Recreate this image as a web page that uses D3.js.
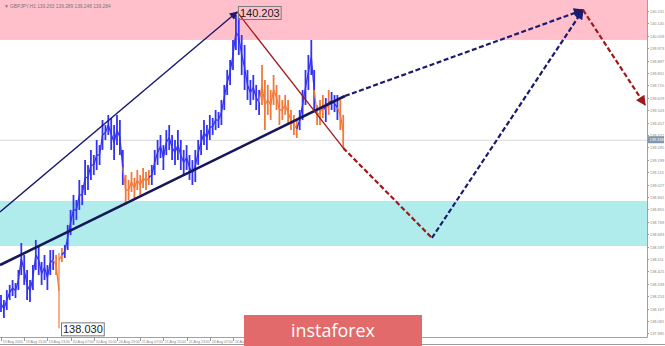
<!DOCTYPE html>
<html><head><meta charset="utf-8">
<script src="https://cdn.jsdelivr.net/npm/d3@7"></script>
<style>html,body{margin:0;padding:0;background:#fff;overflow:hidden}svg{display:block}</style>
</head><body>
<script>
// ---- data ----
const symbolHeader = "\u25BC GBPJPY,H1  139.263 139.289 139.248 139.284";
const barHigh = [138.261,138.227,138.296,138.331,138.365,138.344,138.435,138.622,138.539,138.435,
138.365,138.469,138.643,138.608,138.490,138.539,138.469,138.573,138.573,138.539,
138.552,138.587,138.608,138.747,138.851,138.955,138.920,139.059,139.024,139.197,
139.163,139.267,139.232,139.336,139.301,139.475,139.440,139.510,139.489,139.440,
139.510,139.475,139.267,139.093,139.059,139.114,139.073,139.128,139.093,139.142,
139.114,139.128,139.163,139.267,139.336,139.371,139.301,139.405,139.440,139.371,
139.336,139.405,139.336,139.267,139.301,139.232,139.197,139.267,139.336,139.405,
139.475,139.440,139.510,139.489,139.544,139.530,139.614,139.718,139.822,139.891,
140.030,140.203,140.182,140.064,139.995,139.822,139.752,139.787,139.718,139.683,
139.856,139.752,139.718,139.683,139.787,139.718,139.648,139.614,139.648,139.614,
139.544,139.510,139.475,139.544,139.683,139.822,139.926,140.030,139.822,139.579,
139.614,139.648,139.627,139.683,139.669,139.648,139.648,139.614,139.510];
const barLow = [138.143,138.102,138.157,138.227,138.254,138.240,138.296,138.400,138.331,138.227,
138.213,138.296,138.435,138.400,138.331,138.365,138.296,138.400,138.435,138.400,
138.030,138.490,138.518,138.573,138.677,138.747,138.781,138.851,138.885,138.955,
138.989,139.059,139.093,139.128,139.163,139.267,139.336,139.371,139.267,139.197,
139.301,139.232,139.024,138.885,138.920,138.975,138.934,138.989,138.955,139.003,
138.989,139.024,139.024,139.093,139.163,139.211,139.128,139.232,139.267,139.197,
139.163,139.197,139.128,139.093,139.128,139.059,139.024,139.045,139.163,139.232,
139.301,139.267,139.336,139.371,139.405,139.419,139.440,139.544,139.648,139.718,
139.822,139.960,139.926,139.787,139.683,139.614,139.579,139.614,139.544,139.510,
139.579,139.405,139.510,139.475,139.579,139.544,139.440,139.475,139.510,139.440,
139.405,139.371,139.350,139.405,139.475,139.579,139.683,139.787,139.544,139.440,
139.440,139.489,139.461,139.510,139.544,139.530,139.475,139.405,139.281];
// 0 = impulse (blue), 1 = correction (orange)
const barWave = [0,0,0,0,0,0,0,0,0,0, 0,0,0,0,0,0,0,0,0,1,
1,1,0,0,0,0,0,0,0,0, 0,0,0,0,0,0,0,0,0,0,
0,0,0,1,1,1,1,1,1,1, 1,1,0,0,0,0,0,0,0,0,
0,0,0,0,0,0,0,0,0,0, 0,0,0,0,0,0,0,0,0,0,
0,0,0,0,0,0,0,0,0,0, 1,1,1,1,1,1,1,1,1,1,
1,1,1,0,0,0,0,0,0,1, 1,1,0,1,0,0,0,1,1];
// visible time labels (the rest lie under the logo)
const timeLabels = ["19 Aug 2020","19 Aug 15:00","19 Aug 23:00","20 Aug 07:00","20 Aug 15:00",
"20 Aug 23:00","21 Aug 07:00","21 Aug 15:00","21 Aug 23:00","24 Aug 07:00","24 Aug 15:00"];
const priceTicks = [140.231,140.145,140.059,139.973,139.887,139.801,139.715,139.629,139.543,139.457,
139.371,139.285,139.199,139.113,139.027,138.941,138.855,138.769,138.683,138.597,138.511,138.425,
138.339,138.253,138.167,138.081,137.995];
const lastPrice = 139.338;
const resistanceZone = [140.030, 140.40];
const supportZone = [138.601, 138.913];
const highLabel = {i: 81, p: 140.203, text: "140.203"};
const lowLabel = {i: 20, p: 138.030, text: "138.030"};
// wave annotations: bar index (future allowed) and price
const impulseArrow = [[-0.34,138.837],[81.4,140.224]];
const trendSolid = [[-0.34,138.469],[118.6,139.641]];
const trendProj = [[118.6,139.641],[200.7,140.238]];
const corrSolid = [[81.4,140.224],[118,139.281]];
const corrProj = [[118,139.281],[148.6,138.657]];
const upProj = [[148.6,138.657],[200.7,140.238]];
const downProj = [[200.7,140.238],[222.1,139.579]];

// ---- layout ----
const W = 665, H = 346;
const plotR = 647, plotB = 337;
const x = d3.scaleLinear().domain([0, 118]).range([1, 343.2]);
const y = d3.scaleLinear().domain([137.963, 140.307]).range([338, 0]);

const svg = d3.select("body").append("svg").attr("width", W).attr("height", H)
  .style("font-family", "'Liberation Sans', Arial, sans-serif");

const defs = svg.append("defs");
defs.append("clipPath").attr("id","plot").append("rect").attr("x",0).attr("y",0).attr("width",plotR).attr("height",plotB);
function marker(id, color, w, h){
  defs.append("marker").attr("id", id).attr("viewBox","0 0 10 10").attr("refX",9).attr("refY",5)
    .attr("markerWidth", w).attr("markerHeight", h).attr("markerUnits","userSpaceOnUse").attr("orient","auto")
    .append("path").attr("d","M0,0L10,5L0,10Z").attr("fill", color);
}
marker("arNavy", "#1a1a70", 9, 8);
marker("arNavyBig", "#1a1a70", 12, 10);
marker("arRed", "#a01818", 12, 10);

svg.append("rect").attr("width", W).attr("height", H).attr("fill", "#fff");
const g = svg.append("g").attr("clip-path","url(#plot)");

// zones
g.append("rect").attr("x",0).attr("width",plotR)
  .attr("y", y(resistanceZone[1])).attr("height", y(resistanceZone[0]) - y(resistanceZone[1]))
  .attr("fill", "#ffc0cb");
g.append("rect").attr("x",0).attr("width",plotR)
  .attr("y", y(supportZone[1])).attr("height", y(supportZone[0]) - y(supportZone[1]))
  .attr("fill", "#b0ecec");

// last price line
g.append("line").attr("x1",0).attr("x2",plotR).attr("y1",y(lastPrice)+0.5).attr("y2",y(lastPrice)+0.5)
  .attr("stroke","#d8d8d8").attr("stroke-width",1);

// header
svg.append("text").attr("x",4).attr("y",8).attr("font-size",4.8).attr("fill","#777").text(symbolHeader);

// bars
const colors = ["#3434f0", "#f07a3c"];
g.selectAll("line.bar").data(barHigh).enter().append("line").attr("class","bar")
  .attr("x1",(d,i)=>x(i)).attr("x2",(d,i)=>x(i))
  .attr("y1",d=>y(d)).attr("y2",(d,i)=>y(barLow[i]))
  .attr("stroke",(d,i)=>colors[barWave[i]]).attr("stroke-width",(d,i)=> i===20 ? 1.2 : 1.8);
g.selectAll("line.conn").data(barHigh.slice(1)).enter().append("line").attr("class","conn")
  .attr("x1",(d,i)=>x(i)).attr("x2",(d,i)=>x(i+1))
  .attr("y1",(d,i)=>y(i===20? barHigh[i]-0.05 : (barHigh[i]+barLow[i])/2)).attr("y2",(d,i)=>y((barHigh[i+1]+barLow[i+1])/2))
  .attr("stroke",(d,i)=>colors[barWave[i+1]]).attr("stroke-width",1.3);

// annotation lines
const lineGen = d3.line().x(d=>x(d[0])).y(d=>y(d[1]));
function draw(pts, color, w, dash, mk){
  const p = g.append("path").attr("d", lineGen(pts)).attr("fill","none")
    .attr("stroke", color).attr("stroke-width", w);
  if (dash) p.attr("stroke-dasharray", dash);
  if (mk) p.attr("marker-end", "url(#"+mk+")");
  return p;
}
draw(trendSolid, "#16165a", 2.6);
draw(trendProj, "#1a1a70", 2.2, "5,2.5", "arNavyBig");
draw(impulseArrow, "#1a1a70", 1.4, null, "arNavy");
draw(corrSolid, "#a01818", 1.3);
draw(corrProj, "#a01818", 2.2, "5,2.5");
draw(upProj, "#1a1a70", 2.2, "5,2.5", "arNavyBig");
draw(downProj, "#a01818", 2.2, "5,2.5", "arRed");

// value labels
function valLabel(lbl, dx, dy){
  const tx = x(lbl.i) + dx, ty = y(lbl.p) + dy;
  const t = svg.append("text").attr("x", tx).attr("y", ty).attr("font-size", 11).attr("fill", "#1a1a1a").text(lbl.text);
  const bb = t.node().getBBox();
  svg.insert("rect", "text").attr("x", bb.x-1.5).attr("y", bb.y-0.5).attr("width", bb.width+3).attr("height", bb.height+1)
    .attr("fill","none").attr("stroke","#7a7a7a").attr("stroke-width",1);
  svg.node().appendChild(t.node());
}
valLabel(highLabel, 4, 2);
valLabel(lowLabel, 4, 5);

// right axis
svg.append("line").attr("x1",plotR+0.5).attr("x2",plotR+0.5).attr("y1",0).attr("y2",plotB+0.5).attr("stroke","#a0a0a0");
const ya = svg.append("g");
priceTicks.forEach(v=>{
  const yy = Math.round(y(v)) + 0.5;
  ya.append("line").attr("x1",plotR).attr("x2",plotR+2).attr("y1",yy).attr("y2",yy).attr("stroke","#999");
  ya.append("text").attr("x",plotR+3).attr("y",yy+1.5).attr("font-size",3.9).attr("fill","#888").text(v.toFixed(3));
});
const lpY = y(lastPrice);
svg.append("rect").attr("x",plotR+1).attr("y",lpY-3.5).attr("width",16).attr("height",7).attr("fill","#8496ae");
svg.append("text").attr("x",plotR+2.5).attr("y",lpY+1.5).attr("font-size",3.9).attr("fill","#fff").text(lastPrice.toFixed(3));

// bottom axis
svg.append("line").attr("x1",0).attr("x2",plotR+0.5).attr("y1",plotB+0.5).attr("y2",plotB+0.5).attr("stroke","#a0a0a0");
timeLabels.forEach((t,k)=>{
  const xx = Math.round(x(k*8)) + 0.5;
  svg.append("line").attr("x1",xx).attr("x2",xx).attr("y1",plotB).attr("y2",plotB+4).attr("stroke","#999");
  svg.append("text").attr("x",xx+1.2).attr("y",plotB+5.5).attr("font-size",3.6).attr("fill","#888").text(t);
});
svg.append("line").attr("x1",0).attr("x2",W).attr("y1",H-1.5).attr("y2",H-1.5).attr("stroke","#9a9a9a");

// logo
svg.append("rect").attr("x",244).attr("y",315).attr("width",178).attr("height",32).attr("fill","#e36a6a");
const logo = svg.append("text").attr("x",333).attr("y",337).attr("text-anchor","middle")
  .attr("font-family","'Open Sans', sans-serif").attr("font-size",20).attr("fill","#fff").text("instaforex");
const lw = logo.node().getComputedTextLength();
logo.attr("font-size", 20 * 84 / lw);
</script>
</body></html>
